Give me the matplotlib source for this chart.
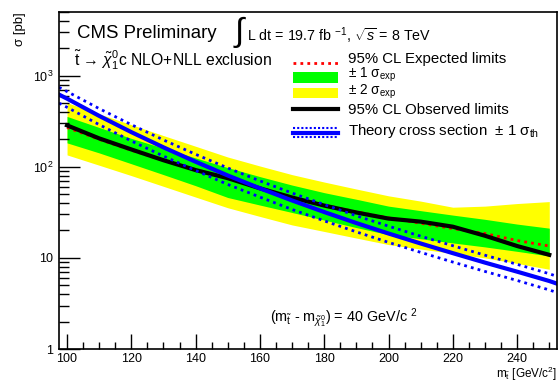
import matplotlib
matplotlib.use("Agg")
import matplotlib.pyplot as plt
from matplotlib.patches import Rectangle
from matplotlib.ticker import MultipleLocator, FixedLocator, NullFormatter

plt.rcParams['font.family'] = ['Liberation Sans', 'DejaVu Sans']
plt.rcParams['mathtext.fontset'] = 'custom'
plt.rcParams['mathtext.rm'] = 'Liberation Sans'
plt.rcParams['mathtext.it'] = 'Liberation Sans:italic'
plt.rcParams['mathtext.sf'] = 'Liberation Sans'

# stop mass [GeV]
mass = [100, 110, 120, 130, 140, 150, 160, 170, 180, 190, 200, 210, 220, 230, 240, 250]

# limits [pb]
expected = [270, 200, 152, 118, 93, 75, 59, 46, 38, 32, 27.5, 24, 21, 18.5, 15.5, 13.5]
observed = [285, 205, 155, 118, 92, 75, 58, 46, 37.5, 31.5, 27, 25, 22, 17.5, 13.5, 10.8]
one_sig_lo = [183, 142, 108, 82, 62, 46, 38, 31.5, 26, 21.5, 18, 16.2, 14.6, 13.2, 11.8, 10.5]
one_sig_hi = [357, 270, 205, 160, 125, 98, 78, 63, 52, 44, 37, 33, 29.5, 26.5, 23.5, 21.2]
two_sig_lo = [135, 104, 80, 61, 46.5, 35.5, 28.5, 23, 19.5, 16.5, 14, 12.5, 11.2, 10, 8.7, 7.5]
two_sig_hi = [505, 380, 290, 220, 168, 128, 102, 82, 68, 57, 48, 42, 36, 37, 39.5, 41.5]

# theory cross section (NLO+NLL) with +-1 sigma
th_mass = [97.5, 100, 110, 120, 130, 140, 150, 160, 170, 180, 190, 200, 210, 220, 230, 240, 250, 252.5]
th_xsec = [620, 559.8, 361.9, 240.1, 163.4, 113.6, 80.27, 58.06, 42.68, 31.86, 24.12, 18.52,
           14.39, 11.27, 8.876, 7.059, 5.576, 5.2]
th_up = [745, 670, 435, 290, 197, 137, 97, 70, 51.5, 38.5, 29, 22.3, 17.3, 13.6, 10.7, 8.5, 6.7, 6.25]
th_dn = [500, 450, 290, 192, 131, 91, 64, 46.5, 34, 25.5, 19.3, 14.8, 11.5, 9.0, 7.1, 5.65, 4.45, 4.15]

fig = plt.figure(figsize=(5.6, 3.87), dpi=100)
ax = fig.add_axes([59/560, 1-349/387, 498/560, 337/387])

ax.fill_between(mass, two_sig_lo, two_sig_hi, color='#ffff00', lw=0)
ax.fill_between(mass, one_sig_lo, one_sig_hi, color='#00ff00', lw=0)
ax.plot(mass, expected, color='#ff0000', lw=2, ls=(0, (1, 1.5)))
ax.plot(mass, observed, color='black', lw=3)
ax.plot(th_mass, th_up, color='#0000ff', lw=2, ls=(0, (1, 1.5)))
ax.plot(th_mass, th_dn, color='#0000ff', lw=2, ls=(0, (1, 1.5)))
ax.plot(th_mass, th_xsec, color='#0000ff', lw=3)

ax.set_yscale('log')
ax.set_xlim(97.5, 252.4)
ax.set_ylim(1, 5000)

ax.xaxis.set_major_locator(MultipleLocator(20))
ax.xaxis.set_minor_locator(MultipleLocator(5))
ax.yaxis.set_major_locator(FixedLocator([1, 10, 100, 1000]))
ax.set_yticklabels(['1', '10', '$10^{2}$', '$10^{3}$'])
ax.yaxis.set_minor_formatter(NullFormatter())
ax.tick_params(which='both', direction='in', top=False, right=False, labelsize=9)
ax.tick_params(axis='y', which='major', length=15, width=1, pad=4)
ax.tick_params(axis='y', which='minor', length=7, width=1)
ax.tick_params(axis='x', which='major', length=11, width=1, pad=3)
ax.tick_params(axis='x', which='minor', length=5, width=1)
for s in ax.spines.values():
    s.set_linewidth(1.2)

ax.set_ylabel('σ [pb]', loc='top', fontsize=9.5, labelpad=5)
ax.set_xlabel(r'm$_{\tilde{\mathrm{t}}}$ [GeV/c$^{2}$]', loc='right', fontsize=8.5, labelpad=0)

tr = ax.transAxes
ax.text(0.036, 0.935, 'CMS Preliminary', transform=tr, fontsize=13.4, va='center')
ax.text(0.352, 0.94, '∫', transform=tr, fontsize=24, va='center')
ax.text(0.378, 0.93, r'L dt = 19.7 fb $^{-1}$, $\sqrt{s}$ = 8 TeV', transform=tr,
        fontsize=10.3, va='center')
ax.text(0.03, 0.858, r'$\tilde{\mathrm{t}}$ → $\tilde{\chi}^{0}_{1}$c NLO+NLL exclusion',
        transform=tr, fontsize=11.3, va='center')
ax.text(0.424, 0.092, r'(m$_{\tilde{\mathrm{t}}}$ - m$_{\tilde{\chi}^{0}_{1}}$) = 40 GeV/c $^{2}$',
        transform=tr, fontsize=10.4, va='center')

# legend drawn by hand
hx = [0.470, 0.560]
tx = 0.580
ax.plot(hx, [0.850, 0.850], transform=tr, color='#ff0000', lw=2, ls=(0, (1, 1.5)), clip_on=False)
ax.add_patch(Rectangle((hx[0], 0.788), hx[1]-hx[0], 0.035, transform=tr, color='#00ff00', lw=0))
ax.add_patch(Rectangle((hx[0], 0.744), hx[1]-hx[0], 0.030, transform=tr, color='#ffff00', lw=0))
ax.plot(hx, [0.711, 0.711], transform=tr, color='black', lw=3)
ax.plot(hx, [0.655, 0.655], transform=tr, color='#0000ff', lw=1.5, ls=(0, (1, 1)))
ax.plot(hx, [0.641, 0.641], transform=tr, color='#0000ff', lw=3)
ax.plot(hx, [0.628, 0.628], transform=tr, color='#0000ff', lw=1.5, ls=(0, (1, 1)))
ax.text(tx, 0.861, '95% CL Expected limits', transform=tr, fontsize=10.8, va='center')
ax.text(tx, 0.813, r'± 1 σ$_{\mathrm{exp}}$', transform=tr, fontsize=9.8, va='center')
ax.text(tx, 0.764, r'± 2 σ$_{\mathrm{exp}}$', transform=tr, fontsize=9.8, va='center')
ax.text(tx, 0.709, '95% CL Observed limits', transform=tr, fontsize=10.8, va='center')
ax.text(tx, 0.648, r'Theory cross section  ± 1 σ$_{\mathrm{th}}$', transform=tr,
        fontsize=10.8, va='center')

fig.savefig('out.png', dpi=100)
